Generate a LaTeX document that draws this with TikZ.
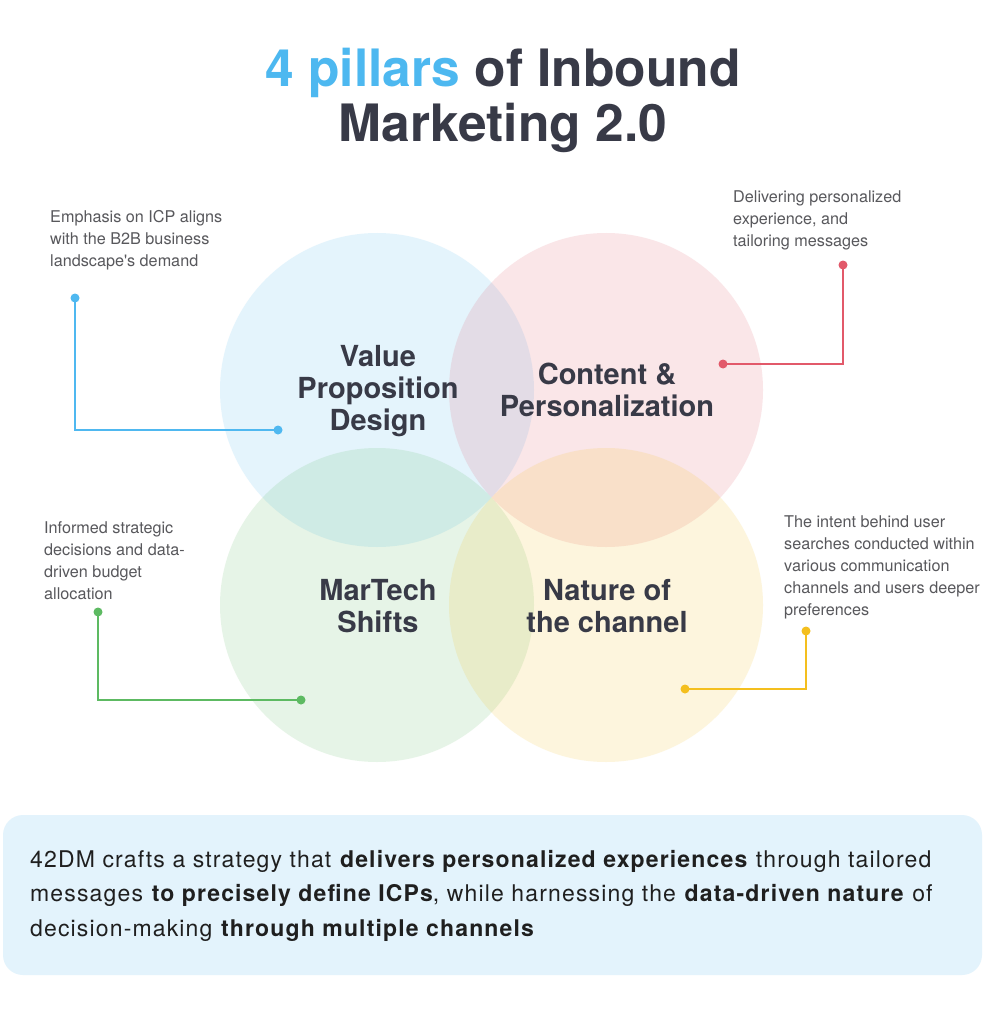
\documentclass[tikz,border=0pt]{standalone}
\usepackage{fontspec}
\setmainfont{TeX Gyre Heros}
\newfontfamily\hfont{TeX Gyre Heros}
\newfontfamily\bodyfont[LetterSpace=5]{TeX Gyre Heros}
\definecolor{tblue}{HTML}{4DB8F0}
\definecolor{tdark}{HTML}{383A47}
\definecolor{tgray}{HTML}{58585C}
\definecolor{cblue}{HTML}{4FB8F0}
\definecolor{cpink}{HTML}{E2596A}
\definecolor{cgreen}{HTML}{5DBA62}
\definecolor{cyellow}{HTML}{F4BF1E}
\definecolor{boxfill}{HTML}{E3F3FC}
\tikzset{
  pillar/.style={fill=#1, fill opacity=0.15, draw=none},
  ttl/.style={inner sep=0pt, text=tdark, font=\hfont\bfseries\fontsize{51.5}{56}\selectfont},
  lbl/.style={align=center, text=tdark, font=\hfont\bfseries\fontsize{29}{32}\selectfont, inner sep=0pt},
  note/.style={align=left, anchor=north west, text=tgray, font=\hfont\fontsize{16.2}{22}\selectfont, inner sep=0pt},
  dot/.style={circle, fill=#1, minimum size=9pt, inner sep=0pt},
  conn/.style={draw=#1, line width=1.8pt},
}
\begin{document}
\begin{tikzpicture}[x=1pt,y=-1pt]
\useasboundingbox (0,0) rectangle (985,1024);
\fill[white] (0,0) rectangle (985,1024);
% title
\node[ttl] (t1) at (503,73) {\textcolor{tblue}{4 pillars} of Inbound};
\node[ttl] (t2) at (503,128) {Marketing 2.0};
% circles
\fill[pillar=cblue] (377,390) circle (157pt);
\fill[pillar=cpink] (606,390) circle (157pt);
\fill[pillar=cgreen] (377,605) circle (157pt);
\fill[pillar=cyellow] (606,605) circle (157pt);
% labels
\node[lbl] (vpd) at (378,391) {Value\\Proposition\\Design};
\node[lbl] (cp) at (607,390) {Content \&\\Personalization};
\node[lbl] (ms) at (378,606) {MarTech\\Shifts};
\node[lbl] (nc) at (607,606) {Nature of\\the channel};
% notes
\node[note] (n1) at (50,210) {Emphasis on ICP aligns\\with the B2B business\\landscape's demand};
\node[note] (n2) at (733,190) {Delivering personalized\\experience, and\\tailoring messages};
\node[note] (n3) at (44,521) {Informed strategic\\decisions and data-\\driven budget\\allocation};
\node[note] (n4) at (784,515) {The intent behind user\\searches conducted within\\various communication\\channels and users deeper\\preferences};
% connectors
\node[dot=cblue] (b1) at (75,298) {};
\node[dot=cblue] (b2) at (278,430) {};
\draw[conn=cblue] (b1.center) |- (b2.center);
\node[dot=cpink] (p1) at (843,265) {};
\node[dot=cpink] (p2) at (723,364) {};
\draw[conn=cpink] (p1.center) |- (p2.center);
\node[dot=cgreen] (g1) at (98,612) {};
\node[dot=cgreen] (g2) at (301,700) {};
\draw[conn=cgreen] (g1.center) |- (g2.center);
\node[dot=cyellow] (y1) at (806,631) {};
\node[dot=cyellow] (y2) at (685,689) {};
\draw[conn=cyellow] (y1.center) |- (y2.center);
% bottom box
\fill[boxfill, rounded corners=20pt] (3,815) rectangle (982,975);
\node[anchor=north west, align=left, inner sep=0pt, text=black!88, font=\bodyfont\fontsize{23}{34.5}\selectfont] (sum) at (30,850) {42DM crafts a strategy that \textbf{delivers personalized experiences} through tailored\\messages \textbf{to precisely define ICPs}, while harnessing the \textbf{data-driven nature} of\\decision-making \textbf{through multiple channels}};
\end{tikzpicture}
\end{document}
